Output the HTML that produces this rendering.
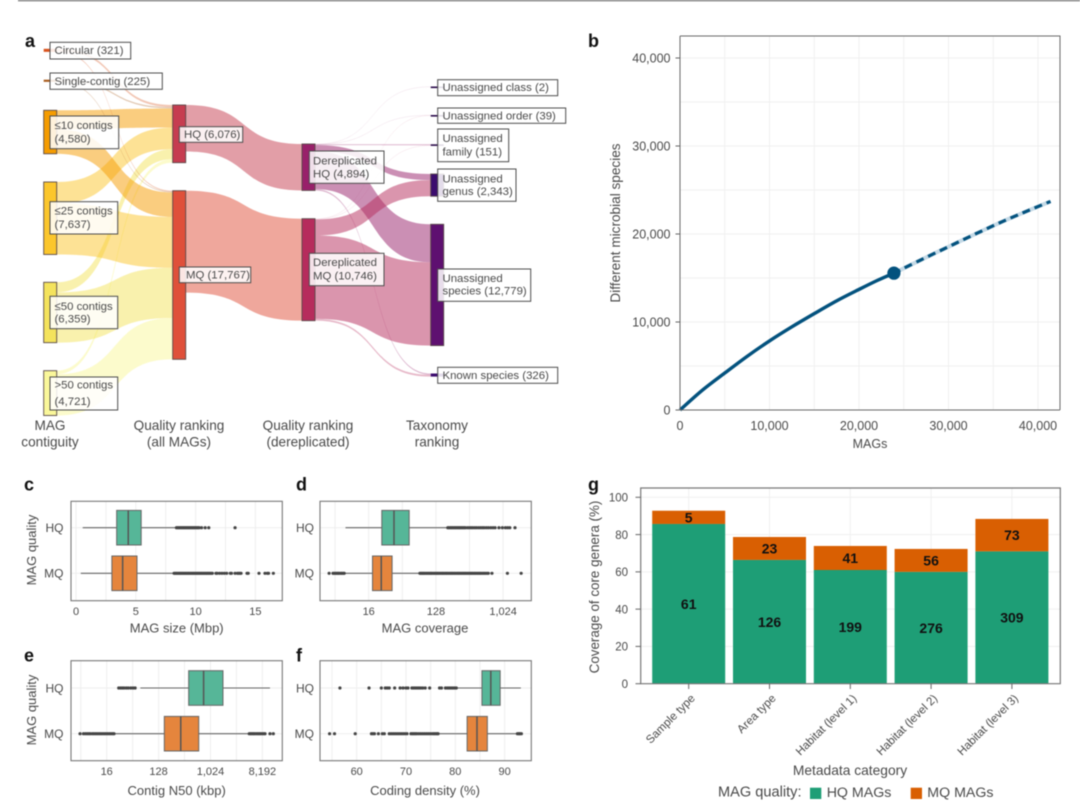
<!DOCTYPE html>
<html lang="en">
<head>
<meta charset="utf-8">
<title>MAG statistics figure</title>
<style>
html,body{margin:0;padding:0;background:#fff;}
svg{display:block;filter:blur(0.45px);font-family:"Liberation Sans",sans-serif;}
text{fill:#4a4a4a;}
.pl{font-weight:bold;font-size:18px;fill:#111;}
.sl{font-size:11.4px;}
.sb{fill:rgba(255,255,255,0.86);stroke:#4d4d4d;stroke-width:1;}
.ct{font-size:13.6px;text-anchor:middle;}
.at{font-size:13px;text-anchor:middle;}
.ql{font-size:12px;text-anchor:end;}
.frame{fill:none;stroke:#777;stroke-width:1.1;}
</style>
</head>
<body>
<svg id="figure" xmlns="http://www.w3.org/2000/svg" width="1080" height="807" viewBox="0 0 1080 807">
<rect x="18" y="0" width="1062" height="1.3" fill="#777"/>

<text class="pl" x="25" y="47">a</text>
<text class="pl" x="588" y="47">b</text>
<text class="pl" x="24" y="490.7">c</text>
<text class="pl" x="296" y="490.7">d</text>
<text class="pl" x="24" y="661.7">e</text>
<text class="pl" x="296" y="661.7">f</text>
<text class="pl" x="588" y="490.7">g</text>

<!-- Panel a: Sankey -->
<g id="sankey">
  <g id="sankey-links"></g>
  <g id="sankey-nodes"></g>
  <g><rect class="sb" x="50" y="42.3" width="80.7" height="16.7"/><text class="sl" x="54.5" y="54">Circular (321)</text></g>
  <g><rect class="sb" x="50" y="73" width="112.3" height="16.3"/><text class="sl" x="54.5" y="85">Single-contig (225)</text></g>
  <g><rect class="sb" x="50" y="116" width="68.7" height="32.7"/><text class="sl" x="54.5" y="129">≤10 contigs</text><text class="sl" x="54.5" y="142.7">(4,580)</text></g>
  <g><rect class="sb" x="50" y="201.7" width="67.7" height="32.3"/><text class="sl" x="54.5" y="214.5">≤25 contigs</text><text class="sl" x="54.5" y="228">(7,637)</text></g>
  <g><rect class="sb" x="50" y="296.3" width="67.7" height="32.4"/><text class="sl" x="54.5" y="310">≤50 contigs</text><text class="sl" x="54.5" y="322.7">(6,359)</text></g>
  <g><rect class="sb" x="50" y="377" width="67.7" height="33"/><text class="sl" x="54.5" y="388.7">&gt;50 contigs</text><text class="sl" x="54.5" y="405">(4,721)</text></g>
  <g><rect class="sb" x="179.3" y="126.7" width="63.4" height="15.6"/><text class="sl" x="184" y="138">HQ (6,076)</text></g>
  <g><rect class="sb" x="179.3" y="267" width="71.4" height="15.7"/><text class="sl" x="186" y="278.3">MQ (17,767)</text></g>
  <g><rect class="sb" x="309.3" y="151" width="74.7" height="32.3"/><text class="sl" x="313" y="164.3">Dereplicated</text><text class="sl" x="313" y="177.3">HQ (4,894)</text></g>
  <g><rect class="sb" x="309.3" y="253.3" width="74.7" height="32.4"/><text class="sl" x="313" y="266">Dereplicated</text><text class="sl" x="313" y="279.3">MQ (10,746)</text></g>
  <g><rect class="sb" x="437.7" y="79.7" width="120" height="16"/><text class="sl" x="442.5" y="90.9">Unassigned class (2)</text></g>
  <g><rect class="sb" x="437.7" y="108" width="128" height="15.3"/><text class="sl" x="442.5" y="119.3">Unassigned order (39)</text></g>
  <g><rect class="sb" x="437.7" y="129" width="71" height="32.7"/><text class="sl" x="442.5" y="142">Unassigned</text><text class="sl" x="442.5" y="155.7">family (151)</text></g>
  <g><rect class="sb" x="437.7" y="169" width="78.3" height="32.3"/><text class="sl" x="442.5" y="182.3">Unassigned</text><text class="sl" x="442.5" y="195">genus (2,343)</text></g>
  <g><rect class="sb" x="437.7" y="269" width="93" height="32.3"/><text class="sl" x="442.5" y="282">Unassigned</text><text class="sl" x="442.5" y="294.7">species (12,779)</text></g>
  <g><rect class="sb" x="437.7" y="367.3" width="120" height="16"/><text class="sl" x="442.5" y="378.9">Known species (326)</text></g>
  <text class="ct" x="50" y="430">MAG</text>
  <text class="ct" x="50" y="446.7">contiguity</text>
  <text class="ct" x="179" y="430">Quality ranking</text>
  <text class="ct" x="179" y="446.7">(all MAGs)</text>
  <text class="ct" x="308" y="430">Quality ranking</text>
  <text class="ct" x="308" y="446.7">(dereplicated)</text>
  <text class="ct" x="437" y="430">Taxonomy</text>
  <text class="ct" x="437" y="446.7">ranking</text>
</g>

<!-- Panel b -->
<g id="panel-b">
  <g id="b-grid"></g>
  <g id="b-marks"></g>
  <path d="M680 36V410H1060M680 36H1060V410" fill="none" stroke="#6a6a6a" stroke-width="1"/>
  <g id="b-ticks"></g>
  <text x="870" y="448" font-size="12.5" text-anchor="middle">MAGs</text>
  <text transform="translate(620,223) rotate(-90)" font-size="13.6" text-anchor="middle">Different microbial species</text>
</g>

<!-- Panels c-f -->
<g id="panel-c"></g>
<g id="panel-d"></g>
<g id="panel-e"></g>
<g id="panel-f"></g>
<rect class="frame" x="71" y="501.3" width="211.3" height="99.4"/>
<rect class="frame" x="320" y="501.3" width="211.3" height="99.4"/>
<rect class="frame" x="71" y="660.7" width="211.3" height="100"/>
<rect class="frame" x="320" y="660.7" width="211.3" height="100"/>
<text class="ql" x="63.5" y="532">HQ</text>
<text class="ql" x="63.5" y="577.7">MQ</text>
<text class="ql" x="314" y="532">HQ</text>
<text class="ql" x="314" y="577.7">MQ</text>
<text class="ql" x="63.5" y="692.3">HQ</text>
<text class="ql" x="63.5" y="738">MQ</text>
<text class="ql" x="314" y="692.3">HQ</text>
<text class="ql" x="314" y="738">MQ</text>
<text class="at" transform="translate(36,550) rotate(-90)">MAG quality</text>
<text class="at" transform="translate(36,710) rotate(-90)">MAG quality</text>
<text class="at" x="176.7" y="632.7">MAG size (Mbp)</text>
<text class="at" x="425" y="632.7">MAG coverage</text>
<text class="at" x="176.7" y="795">Contig N50 (kbp)</text>
<text class="at" x="425" y="795">Coding density (%)</text>

<!-- Panel g -->
<g id="panel-g">
  <g id="g-grid"></g>
  <g id="g-bars"></g>
  <path d="M640.7 683.7V488H1060.3V683.7Z" fill="none" stroke="#777" stroke-width="1.2"/>
  <g id="g-ticks"></g>
  <text transform="translate(599,587) rotate(-90)" font-size="13.4" text-anchor="middle">Coverage of core genera (%)</text>
  <text x="850" y="775" font-size="13.8" text-anchor="middle">Metadata category</text>
  <text x="718" y="796.7" font-size="14.6">MAG quality:</text>
  <rect x="810" y="787.7" width="11.3" height="11.3" fill="#1e9e76"/>
  <text x="826.7" y="797" font-size="14.2">HQ MAGs</text>
  <rect x="910.7" y="787.7" width="11.3" height="11.3" fill="#d95f02"/>
  <text x="927.3" y="797" font-size="14.2">MQ MAGs</text>
</g>
</svg>

<script>
/* ---------- Panel a data ---------- */
const nodeNames = ['circular','single','c10','c25','c50','c50plus','hq','mq','dhq','dmq','class','order','family','genus','species','known'];
const nodeValues = [321,225,4580,7637,6359,4721,6076,17767,4894,10746,2,39,151,2343,12779,326];
const linkSources = ['circular','single','c10','c25','c50','c50plus','circular','single','c10','c25','c50','c50plus','hq','mq','dhq','dhq','dhq','dhq','dhq','dhq','dmq','dmq','dmq','dmq','dmq'];
const linkTargets = ['hq','hq','hq','hq','hq','hq','mq','mq','mq','mq','mq','mq','dhq','dmq','class','order','family','genus','species','known','order','family','genus','species','known'];
const linkValues = [221,145,2000,2280,1059,371,100,80,2580,5357,5300,4350,4894,10746,2,20,100,640,3999,133,19,51,1703,8780,193];

/* ---------- Panel b data ---------- */
const observedMags = [0,2500,5000,7500,10000,12500,15000,17500,20000,22000,23900];
const observedSpecies = [0,2250,4200,6100,7850,9450,10950,12400,13700,14700,15550];
const projectedMags = [23900,27000,30000,33000,36000,39000,41400];
const projectedSpecies = [15550,17100,18550,20000,21400,22700,23700];
const curveXTicks = [0,10000,20000,30000,40000];
const curveYTicks = [0,10000,20000,30000,40000];

/* ---------- Panels c-f data: [low whisker, Q1, median, Q3, high whisker] ---------- */
const sizeHqBox = [0.56,3.4,4.37,5.45,8.4];
const sizeMqBox = [0.4,3.0,3.9,5.1,8.1];
const sizeHqOut = [8.4,8.5,8.6,8.7,8.8,8.9,9.0,9.1,9.2,9.3,9.4,9.5,9.6,9.7,9.8,9.9,10.0,10.1,10.2,10.3,10.5,10.8,11.1,13.3];
const sizeMqOut = [8.2,8.3,8.4,8.5,8.6,8.7,8.8,8.9,9.0,9.1,9.2,9.3,9.4,9.5,9.6,9.7,9.8,9.9,10.0,10.1,10.2,10.3,10.4,10.5,10.6,10.7,10.8,10.9,11.0,11.1,11.2,11.3,11.4,11.7,11.8,12.0,12.2,12.4,12.6,12.9,13.0,13.3,13.5,13.6,13.7,13.8,14.3,14.4,15.3,15.8,16.0,16.1,16.5];
const sizeTicks = [0,5,10,15];
const sizeMinor = [2.5,7.5,12.5];

const coverageHqBox = [7.8,24,35,56,185];
const coverageMqBox = [7.5,18,23.6,33,78];
const coverageHqOut = [185,192,200,208,216,225,234,243,253,263,273,284,295,307,319,340,360,380,400,425,450,480,510,540,570,610,650,700,750,800,900,1000,1100,1180,1260,1480];
const coverageMqOut = [4.7,5.3,5.5,5.7,5.9,6.1,6.3,6.5,6.8,7.0,7.3,7.5,78,81,84,87,90,94,98,102,106,110,114,119,124,129,134,139,145,151,157,163,170,177,184,192,200,208,216,225,234,245,255,265,276,288,300,312,325,340,355,370,385,400,418,435,455,475,495,515,540,565,590,620,648,725,1170,1790];
const coverageTicks = [16,128,1024];
const coverageMinor = [5.66,45.25,362];

const n50HqBox = [61.6,427,777,1687,11100];
const n50MqBox = [21.4,161,311,639,4840];
const n50HqOut = [25.9,28,30,32,35,38,42,46,50];
const n50MqOut = [5.5,6.3,6.8,7.3,7.8,8.3,9,9.6,10.3,11,11.8,12.6,13.5,14.5,15.5,16.6,17.8,19,20.3,21.4,4840,5100,5400,5700,6000,6400,6800,7200,7600,8100,8600,9090,11100,12680];
const n50Ticks = [16,128,1024,8192];
const n50Minor = [5.66,45.25,362,2896];

const densityHqBox = [80.2,85.4,87.2,89.1,93.3];
const densityMqBox = [76.5,82.4,84.4,86.5,92.3];
const densityHqOut = [56.6,62.5,65,65.8,66.2,66.6,67.7,68.8,69.4,70,70.4,71.2,71.5,71.8,72.1,72.4,72.7,73,73.4,73.9,74.8,76.8,77.2,78,78.4,78.7,79,79.3,79.6,79.9,80.2];
const densityMqOut = [54.5,55.5,59.7,63,63.3,63.6,64.4,65.2,65.6,66.6,67,67.4,67.8,68.2,68.6,69,69.4,69.8,70.2,71,71.3,71.6,71.9,72.2,72.6,73,73.4,73.8,74.2,74.6,75,75.4,75.7,76,76.3,76.5,92.6,92.9,93.1,93.4];
const densityTicks = [60,70,80,90];
const densityMinor = [55,65,75,85];

/* ---------- Panel g data ---------- */
const categories = ['Sample type','Area type','Habitat (level 1)','Habitat (level 2)','Habitat (level 3)'];
const hqCoverage = [85.7,66.4,61,60,71];
const mqCoverage = [7.1,12.3,12.9,12.3,17.4];
const hqGenera = [61,126,199,276,309];
const mqGenera = [5,23,41,56,73];
const coverageYTicks = [0,20,40,60,80,100];

/* ---------- helpers ---------- */
const SVGNS = 'http://www.w3.org/2000/svg';
function mk(parent, tag, attrs, content) {
  const el = document.createElementNS(SVGNS, tag);
  for (const k in attrs) el.setAttribute(k, attrs[k]);
  if (content !== undefined) el.textContent = content;
  parent.appendChild(el);
  return el;
}
const byId = id => document.getElementById(id);
const fmt = v => v.toLocaleString('en-US');

/* ---------- Panel a ---------- */
(function drawSankey() {
  const pxPerMag = 0.00949;
  const colLeft = {circular:43.7,single:43.7,c10:43.7,c25:43.7,c50:43.7,c50plus:43.7,hq:172.7,mq:172.7,dhq:302,dmq:302,class:430.7,order:430.7,family:430.7,genus:430.7,species:430.7,known:430.7};
  const nodeTop = {circular:48.8,single:79.7,c10:110.3,c25:182,c50:282.3,c50plus:370.7,hq:105,mq:190.7,dhq:144,dmq:218.7,class:86.5,order:115,family:144.3,genus:174,species:224.3,known:373.5};
  const nodeFill = {circular:'#d9541e',single:'#a85a1a',c10:'#f59c00',c25:'#fbc62c',c50:'#f4e35c',c50plus:'#faf79a',hq:'#c63d50',mq:'#df503a',dhq:'#98206a',dmq:'#b62c5c',class:'#2a0a4a',order:'#2a0a4a',family:'#2a0a4a',genus:'#3c0c6e',species:'#5e1070',known:'#3c0c6e'};
  const nodeW = 13;
  const srcOffset = {}, tgtOffset = {};
  nodeNames.forEach(n => { srcOffset[n] = 0; tgtOffset[n] = 0; });
  const gl = byId('sankey-links');
  linkValues.forEach((v, i) => {
    const s = linkSources[i], t = linkTargets[i];
    const h = Math.max(v * pxPerMag, 0.5);
    const x0 = colLeft[s] + nodeW, x1 = colLeft[t];
    const y0 = nodeTop[s] + srcOffset[s], y1 = nodeTop[t] + tgtOffset[t];
    srcOffset[s] += v * pxPerMag;
    tgtOffset[t] += v * pxPerMag;
    const c0 = x0 + (x1 - x0) * 0.58, c1 = x1 - (x1 - x0) * 0.58;
    const d = `M${x0} ${y0}C${c0} ${y0} ${c1} ${y1} ${x1} ${y1}L${x1} ${y1 + h}C${c1} ${y1 + h} ${c0} ${y0 + h} ${x0} ${y0 + h}Z`;
    const link = mk(gl, 'path', {d: d, fill: nodeFill[s], 'fill-opacity': v < 60 ? 0.14 : (v < 250 ? 0.33 : 0.5)});
    
    
  });
  const gn = byId('sankey-nodes');
  nodeNames.forEach((n, i) => {
    const h = Math.max(nodeValues[i] * pxPerMag, 1.6);
    const node = mk(gn, 'rect', {x: colLeft[n], y: nodeTop[n], width: nodeW, height: h, fill: nodeFill[n], stroke: h > 4 ? '#5a4a4a' : 'none', 'stroke-width': 0.9});
    
    
  });
})();

/* ---------- Panel b ---------- */
(function drawCurve() {
  const x = v => 680 + v * 358 / 40000;
  const y = v => 410 - v * 352 / 40000;
  const grid = byId('b-grid');
  const minorX = [5000,15000,25000,35000], minorY = [5000,15000,25000,35000];
  curveXTicks.concat(minorX).forEach(v => {
    const l = mk(grid, 'line', {x1: x(v), x2: x(v), y1: 36, y2: 410, stroke: '#f0f0f0', 'stroke-width': 1});
    
    
  });
  curveYTicks.concat(minorY).forEach(v => {
    const l = mk(grid, 'line', {x1: 680, x2: 1060, y1: y(v), y2: y(v), stroke: '#f0f0f0', 'stroke-width': 1});
    
    
  });
  const marks = byId('b-marks');
  /* smooth Catmull-Rom path through the data points */
  function smooth(xs, ys) {
    const P = xs.map((v, i) => [x(v), y(ys[i])]);
    let d = `M${P[0][0]} ${P[0][1]}`;
    for (let i = 0; i < P.length - 1; i++) {
      const a = P[Math.max(i - 1, 0)], b = P[i], c = P[i + 1], e = P[Math.min(i + 2, P.length - 1)];
      d += `C${b[0] + (c[0] - a[0]) / 6} ${b[1] + (c[1] - a[1]) / 6} ${c[0] - (e[0] - b[0]) / 6} ${c[1] - (e[1] - b[1]) / 6} ${c[0]} ${c[1]}`;
    }
    return d;
  }
  const band = mk(marks, 'path', {d: smooth(projectedMags, projectedSpecies), fill: 'none', stroke: '#c4d9e6', 'stroke-width': 4});
  
  
  const dash = mk(marks, 'path', {d: smooth(projectedMags, projectedSpecies), fill: 'none', stroke: '#03527e', 'stroke-width': 3.2, 'stroke-dasharray': '8 5', 'stroke-dashoffset': -12});
  
  
  const solid = mk(marks, 'path', {d: smooth(observedMags, observedSpecies), fill: 'none', stroke: '#03527e', 'stroke-width': 3.4, 'stroke-linejoin': 'round'});
  
  
  const last = observedMags.length - 1;
  const dot = mk(marks, 'circle', {cx: x(observedMags[last]), cy: y(observedSpecies[last]), r: 6.6, fill: '#03527e'});
  
  
  const ticks = byId('b-ticks');
  curveXTicks.forEach(v => {
    const t = mk(ticks, 'text', {x: x(v), y: 430, 'font-size': 12.5, 'text-anchor': 'middle'}, fmt(v));
    
    
  });
  curveYTicks.forEach(v => {
    const t = mk(ticks, 'text', {x: 670.5, y: y(v) + 4.4, 'font-size': 12.5, 'text-anchor': 'end'}, fmt(v));
    
    
    const m = mk(ticks, 'line', {x1: 675.5, x2: 680, y1: y(v), y2: y(v), stroke: '#666', 'stroke-width': 1});
    
    
  });
})();

/* ---------- Panels c-f ---------- */
function drawBoxPanel(gId, xs, frame, labelY, major, minor, hqBox, mqBox, hqOut, mqOut) {
  const g = byId(gId);
  major.concat(minor).forEach(v => {
    const l = mk(g, 'line', {x1: xs(v), x2: xs(v), y1: frame.top, y2: frame.bottom, stroke: '#eeeeee', 'stroke-width': 1});
    
    
  });
  [frame.hq, frame.mq].forEach(yc => {
    const l = mk(g, 'line', {x1: frame.left, x2: frame.right, y1: yc, y2: yc, stroke: '#eeeeee', 'stroke-width': 1});
    
    
  });
  const boxes = [[hqBox, hqOut, frame.hq, '#56b698'], [mqBox, mqOut, frame.mq, '#e5853d']];
  boxes.forEach(([b, out, yc, fill]) => {
    const wh = mk(g, 'line', {x1: xs(b[0]), x2: xs(b[4]), y1: yc, y2: yc, stroke: '#666', 'stroke-width': 1.1});
    
    
    out.forEach(v => {
      const c = mk(g, 'circle', {cx: xs(v), cy: yc, r: 1.6, fill: '#444'});
      
      
    });
    const r = mk(g, 'rect', {x: xs(b[1]), y: yc - 17.3, width: xs(b[3]) - xs(b[1]), height: 34.6, fill: fill, stroke: '#666', 'stroke-width': 1});
    
    
    const md = mk(g, 'line', {x1: xs(b[2]), x2: xs(b[2]), y1: yc - 17.3, y2: yc + 17.3, stroke: '#555', 'stroke-width': 1.5});
    
    
  });
  major.forEach(v => {
    const t = mk(g, 'text', {x: xs(v), y: labelY, 'font-size': 11, 'text-anchor': 'middle'}, fmt(v));
    
    
  });
}
const sizeX = v => 76 + v * 11.96;
const coverageX = v => 368.7 + (Math.log2(v) - 4) * 22.4;
const n50X = v => 106.7 + (Math.log2(v) - 4) * 17.3;
const densityX = v => 356.7 + (v - 60) * 4.93;
drawBoxPanel('panel-c', sizeX, {left:71,right:282.3,top:501.3,bottom:600.7,hq:527.7,mq:573.3}, 615, sizeTicks, sizeMinor, sizeHqBox, sizeMqBox, sizeHqOut, sizeMqOut);
drawBoxPanel('panel-d', coverageX, {left:320,right:531.3,top:501.3,bottom:600.7,hq:527.7,mq:573.3}, 615, coverageTicks, coverageMinor, coverageHqBox, coverageMqBox, coverageHqOut, coverageMqOut);
drawBoxPanel('panel-e', n50X, {left:71,right:282.3,top:660.7,bottom:760.7,hq:688,mq:733.7}, 775, n50Ticks, n50Minor, n50HqBox, n50MqBox, n50HqOut, n50MqOut);
drawBoxPanel('panel-f', densityX, {left:320,right:531.3,top:660.7,bottom:760.7,hq:688,mq:733.7}, 775, densityTicks, densityMinor, densityHqBox, densityMqBox, densityHqOut, densityMqOut);

/* ---------- Panel g ---------- */
(function drawBars() {
  const x = i => 688.7 + i * 80.8;
  const y = v => 683.7 - v * 1.864;
  const barW = 73;
  const grid = byId('g-grid');
  categories.forEach((c, i) => {
    const l = mk(grid, 'line', {x1: x(i), x2: x(i), y1: 488, y2: 683.7, stroke: '#f0f0f0', 'stroke-width': 1});
    
    
  });
  coverageYTicks.forEach(v => {
    const l = mk(grid, 'line', {x1: 640.7, x2: 1060, y1: y(v), y2: y(v), stroke: '#f0f0f0', 'stroke-width': 1});
    
    
  });
  const bars = byId('g-bars');
  categories.forEach((c, i) => {
    const hq = hqCoverage[i], mq = mqCoverage[i];
    const rh = mk(bars, 'rect', {x: x(i) - barW / 2, y: y(hq), width: barW, height: y(0) - y(hq), fill: '#1e9e76'});
    
    
    const rm = mk(bars, 'rect', {x: x(i) - barW / 2, y: y(hq + mq), width: barW, height: y(hq) - y(hq + mq), fill: '#d95f02'});
    
    
    const th = mk(bars, 'text', {x: x(i), y: y(hq / 2) + 5, 'font-size': 14, 'font-weight': 'bold', 'text-anchor': 'middle', style: 'fill:#111'}, hqGenera[i]);
    
    
    const tm = mk(bars, 'text', {x: x(i), y: y(hq + mq / 2) + 5, 'font-size': 14, 'font-weight': 'bold', 'text-anchor': 'middle', style: 'fill:#111'}, mqGenera[i]);
    
    
  });
  const ticks = byId('g-ticks');
  coverageYTicks.forEach(v => {
    const t = mk(ticks, 'text', {x: 628, y: y(v) + 4.2, 'font-size': 11.5, 'text-anchor': 'end'}, v);
    
    
    const m = mk(ticks, 'line', {x1: 635.5, x2: 640.7, y1: y(v), y2: y(v), stroke: '#666', 'stroke-width': 1});
    
    
  });
  categories.forEach((c, i) => {
    const m = mk(ticks, 'line', {x1: x(i), x2: x(i), y1: 683.7, y2: 689, stroke: '#666', 'stroke-width': 1});
    
    
    const t = mk(ticks, 'text', {transform: `translate(${x(i) + 7},699) rotate(-45)`, 'font-size': 11.5, 'text-anchor': 'end'}, c);
    
    
  });
})();
</script>
</body>
</html>
